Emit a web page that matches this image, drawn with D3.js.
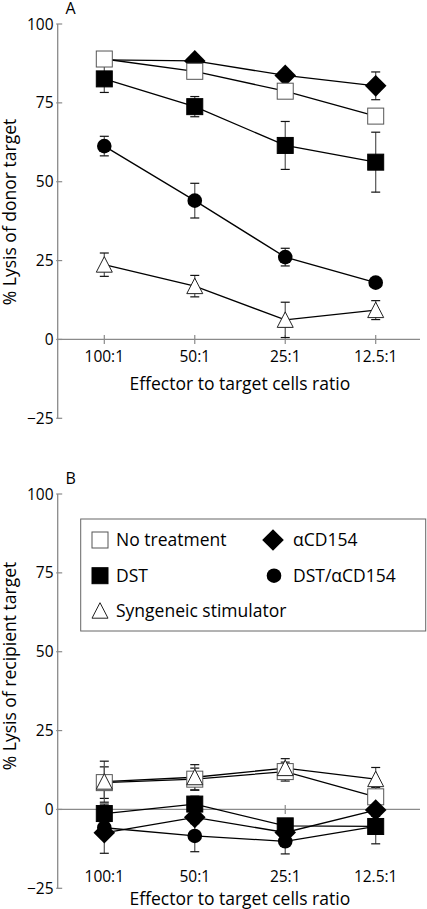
<!DOCTYPE html>
<html>
<head>
<meta charset="utf-8">
<script src="https://cdn.jsdelivr.net/npm/d3@7"></script>
<style>
  html, body { margin: 0; padding: 0; background: #fff; }
  svg { display: block; font-family: "Open Sans", sans-serif; }
</style>
</head>
<body>
<svg id="chart" width="427" height="909"></svg>
<script>
// ---- Data ----
const categories = ["100:1", "50:1", "25:1", "12.5:1"];
const yTicks = [-25, 0, 25, 50, 75, 100];
const seriesNames = ["No treatment", "αCD154", "DST", "DST/αCD154", "Syngeneic stimulator"];

// Panel A: % lysis of donor target
const noTreatA    = [88.9, 85.0, 78.7, 70.8];
const noTreatAErr = [1.5, 1.5, 1.5, 1.5];
const cd154A      = [88.6, 88.3, 83.7, 80.4];
const cd154AErr   = [1.5, 1.5, 1.5, 4.4];
const cd154AMarkerShown = [false, true, true, true]; // 100:1 marker hidden behind "No treatment"
const dstA        = [82.6, 73.8, 61.5, 56.2];
const dstAErr     = [4.3, 3.2, 7.6, 9.5];
const dstCd154A   = [61.3, 44.0, 26.1, 18.0];
const dstCd154AErr= [3.1, 5.5, 2.8, 1.0];
const syngA       = [23.7, 16.9, 6.2, 9.3];
const syngAErr    = [3.7, 3.4, 5.6, 3.0];

// Panel B: % lysis of recipient target
const noTreatB    = [8.5, 9.6, 12.0, 4.0];
const noTreatBErr = [5.0, 3.5, 3.0, 3.0];
const cd154B      = [-7.4, -2.5, -7.3, -0.2];
const cd154BErr   = [6.5, 2.0, 2.0, 2.0];
const dstB        = [-1.3, 1.7, -5.2, -5.4];
const dstBErr     = [3.0, 2.5, 2.0, 5.5];
const dstCd154B   = [-5.8, -8.4, -10.1, -5.4];
const dstCd154BErr= [2.0, 5.0, 4.0, 2.0];
const syngB       = [8.8, 10.2, 13.1, 9.6];
const syngBErr    = [6.5, 4.0, 3.0, 3.7];

// ---- Styles ----
const AXIS = "#8a8a8a";
const shapes = {
  "No treatment": "openSquare",
  "αCD154": "diamond",
  "DST": "filledSquare",
  "DST/αCD154": "circle",
  "Syngeneic stimulator": "triangle"
};

function drawMarker(g, shape, x, y) {
  if (shape === "openSquare" || shape === "filledSquare") {
    g.append("rect").attr("x", x - 8).attr("y", y - 8).attr("width", 16).attr("height", 16)
      .attr("fill", shape === "openSquare" ? "#fff" : "#000")
      .attr("stroke", shape === "openSquare" ? "#555" : "#000").attr("stroke-width", 1);
  } else if (shape === "diamond") {
    const r = 10.8;
    g.append("path").attr("d", `M${x},${y - r}L${x + r},${y}L${x},${y + r}L${x - r},${y}Z`)
      .attr("fill", "#000");
  } else if (shape === "circle") {
    g.append("circle").attr("cx", x).attr("cy", y).attr("r", 7.3).attr("fill", "#000");
  } else if (shape === "triangle") {
    g.append("path").attr("d", `M${x},${y - 8}L${x + 8},${y + 7.5}L${x - 8},${y + 7.5}Z`)
      .attr("fill", "#fff").attr("stroke", "#222").attr("stroke-width", 1);
  }
}

const svg = d3.select("#chart");

function panel(cfg) {
  const x = d3.scalePoint().domain(categories).range([104.3, 375.7]);
  const y = d3.scaleLinear().domain([-25, 100]).range([cfg.bottom, cfg.top]);
  const axL = 57.7, axR = 420;
  const g = svg.append("g");

  // y axis
  g.append("line").attr("x1", axL).attr("x2", axL).attr("y1", y(100)).attr("y2", y(-25))
    .attr("stroke", AXIS).attr("stroke-width", 1.3);
  yTicks.forEach(t => {
    g.append("line").attr("x1", axL - 1.5).attr("x2", axL + 4.5).attr("y1", y(t)).attr("y2", y(t))
      .attr("stroke", AXIS).attr("stroke-width", 1.2);
    g.append("text").attr("x", 53.5).attr("y", y(t) + 5.5).attr("text-anchor", "end")
      .attr("font-size", 15.5).text(t < 0 ? "\u2212" + Math.abs(t) : t);
  });
  // x axis at zero
  g.append("line").attr("x1", axL).attr("x2", axR).attr("y1", y(0)).attr("y2", y(0))
    .attr("stroke", AXIS).attr("stroke-width", 1.3);
  categories.forEach(c => {
    g.append("line").attr("x1", x(c)).attr("x2", x(c)).attr("y1", y(0) - 4.5).attr("y2", y(0) + 4.5)
      .attr("stroke", AXIS).attr("stroke-width", 1.2);
    g.append("text").attr("x", x(c)).attr("y", cfg.tickY).attr("text-anchor", "middle")
      .attr("font-size", 15.5).text(c);
  });
  g.append("text").attr("x", (axL + axR) / 2 + 1).attr("y", cfg.titleY).attr("text-anchor", "middle")
    .attr("font-size", 17.5).text("Effector to target cells ratio");
  g.append("text").attr("transform", `translate(16,${cfg.ylabY}) rotate(-90)`).attr("text-anchor", "middle")
    .attr("font-size", 17.5).text(cfg.ylab);
  g.append("text").attr("x", 65.5).attr("y", cfg.letterY).attr("font-size", 16).text(cfg.letter);

  const series = cfg.series;
  // lines
  series.forEach(s => {
    const line = d3.line().x((d, i) => x(categories[i])).y(d => y(d));
    g.append("path").attr("d", line(s.values)).attr("fill", "none")
      .attr("stroke", "#000").attr("stroke-width", 1.3);
  });
  // error bars
  series.forEach(s => {
    s.values.forEach((v, i) => {
      const cx = x(categories[i]);
      const lo = y(v - s.err[i]), hi = y(v + s.err[i]);
      g.append("line").attr("x1", cx).attr("x2", cx).attr("y1", lo).attr("y2", hi)
        .attr("stroke", "#555").attr("stroke-width", 1.2);
      [lo, hi].forEach(yy => g.append("line").attr("x1", cx - 4.5).attr("x2", cx + 4.5)
        .attr("y1", yy).attr("y2", yy).attr("stroke", "#111").attr("stroke-width", 1.2));
    });
  });
  // markers in panel-specific stacking order
  cfg.order.forEach(name => {
    const s = series.find(d => d.name === name);
    s.values.forEach((v, i) => {
      if (s.shown && !s.shown[i]) return;
      drawMarker(g, shapes[name], x(categories[i]), y(v));
    });
  });
}

panel({
  top: 24, bottom: 418.3, tickY: 362, titleY: 390, ylabY: 212, letterY: 14, letter: "A",
  ylab: "% Lysis of donor target",
  series: [
    { name: "No treatment", values: noTreatA, err: noTreatAErr },
    { name: "αCD154", values: cd154A, err: cd154AErr, shown: cd154AMarkerShown },
    { name: "DST", values: dstA, err: dstAErr },
    { name: "DST/αCD154", values: dstCd154A, err: dstCd154AErr },
    { name: "Syngeneic stimulator", values: syngA, err: syngAErr }
  ],
  order: ["αCD154", "No treatment", "DST", "DST/αCD154", "Syngeneic stimulator"]
});

panel({
  top: 494, bottom: 888.3, tickY: 882, titleY: 905, ylabY: 666, letterY: 483.5, letter: "B",
  ylab: "% Lysis of recipient target",
  series: [
    { name: "No treatment", values: noTreatB, err: noTreatBErr },
    { name: "αCD154", values: cd154B, err: cd154BErr },
    { name: "DST", values: dstB, err: dstBErr },
    { name: "DST/αCD154", values: dstCd154B, err: dstCd154BErr },
    { name: "Syngeneic stimulator", values: syngB, err: syngBErr }
  ],
  order: ["No treatment", "Syngeneic stimulator", "DST/αCD154", "αCD154", "DST"]
});

// legend
const lg = svg.append("g");
lg.append("rect").attr("x", 80.7).attr("y", 519).attr("width", 345).attr("height", 112)
  .attr("fill", "#fff").attr("stroke", "#666").attr("stroke-width", 1);
const legendItems = [
  { name: seriesNames[0], mx: 100, tx: 116, cy: 540 },
  { name: seriesNames[1], mx: 273, tx: 293, cy: 540 },
  { name: seriesNames[2], mx: 100, tx: 116, cy: 575.7 },
  { name: seriesNames[3], mx: 274, tx: 293, cy: 575.7 },
  { name: seriesNames[4], mx: 100, tx: 116, cy: 610.7 }
];
legendItems.forEach(it => {
  drawMarker(lg, shapes[it.name], it.mx, it.cy);
  lg.append("text").attr("x", it.tx).attr("y", it.cy + 6.3).attr("font-size", 17.5).text(it.name);
});
</script>
</body>
</html>
